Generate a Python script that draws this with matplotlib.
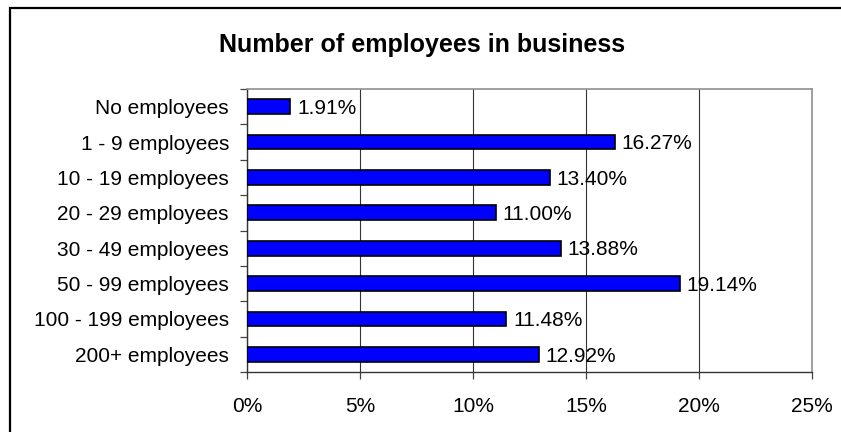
import matplotlib
matplotlib.use("Agg")
import matplotlib.pyplot as plt
from matplotlib.patches import Rectangle
import numpy as np

categories = ["No employees", "1 - 9 employees", "10 - 19 employees", "20 - 29 employees",
              "30 - 49 employees", "50 - 99 employees", "100 - 199 employees", "200+ employees"]
shares = [1.91, 16.27, 13.40, 11.00, 13.88, 19.14, 11.48, 12.92]
x_ticks = [0, 5, 10, 15, 20, 25]
x_tick_labels = ["0%", "5%", "10%", "15%", "20%", "25%"]
title = "Number of employees in business"

plt.rcParams["font.family"] = ["Liberation Sans", "DejaVu Sans"]

W, H = 841, 432
fig = plt.figure(figsize=(W / 100, H / 100), dpi=100)
fig.patch.set_facecolor("white")

# outer chart frame (left and top edges visible)
fig.add_artist(Rectangle((10 / W, -0.1), 1.2, 1.1 - 8 / H, transform=fig.transFigure,
                         fill=False, edgecolor="black", linewidth=1.6))

ax = fig.add_axes([247 / W, 1 - 372 / H, (812 - 247) / W, (372 - 89) / H])
n = len(categories)
y = np.arange(n)
ax.barh(y, shares, height=0.42, color="#0000FF", edgecolor="black", linewidth=1.2, zorder=3)

label_fs = 15
for yi, v in zip(y, shares):
    ax.text(v + 0.3, yi + 0.05, f"{v:.2f}%", va="center", ha="left", fontsize=label_fs, zorder=4)

ax.set_xlim(0, 25)
ax.set_ylim(n - 0.5, -0.5)
ax.set_xticks(x_ticks)
ax.set_xticklabels(x_tick_labels, fontsize=label_fs)
ax.set_yticks(y)
ax.set_yticklabels(categories, fontsize=label_fs)
ax.tick_params(axis="y", length=0, pad=13)
ax.set_yticks(np.arange(-0.5, n, 1.0), minor=True)
ax.tick_params(axis="y", which="minor", length=5, width=0.9, direction="out", color="#444444")
ax.tick_params(axis="x", length=5, width=0.9, direction="out", pad=13, color="#444444")
ax.xaxis.grid(True, color="#333333", linewidth=0.8, zorder=0)
ax.set_axisbelow(True)

for side in ("left", "bottom"):
    ax.spines[side].set_color("#333333")
    ax.spines[side].set_linewidth(1.0)
for side in ("top", "right"):
    ax.spines[side].set_color("#909090")
    ax.spines[side].set_linewidth(1.2)

fig.text(0.502, 1 - 45 / H, title, ha="center", va="center", fontsize=18, fontweight="bold")

fig.savefig("out.png", dpi=100)
